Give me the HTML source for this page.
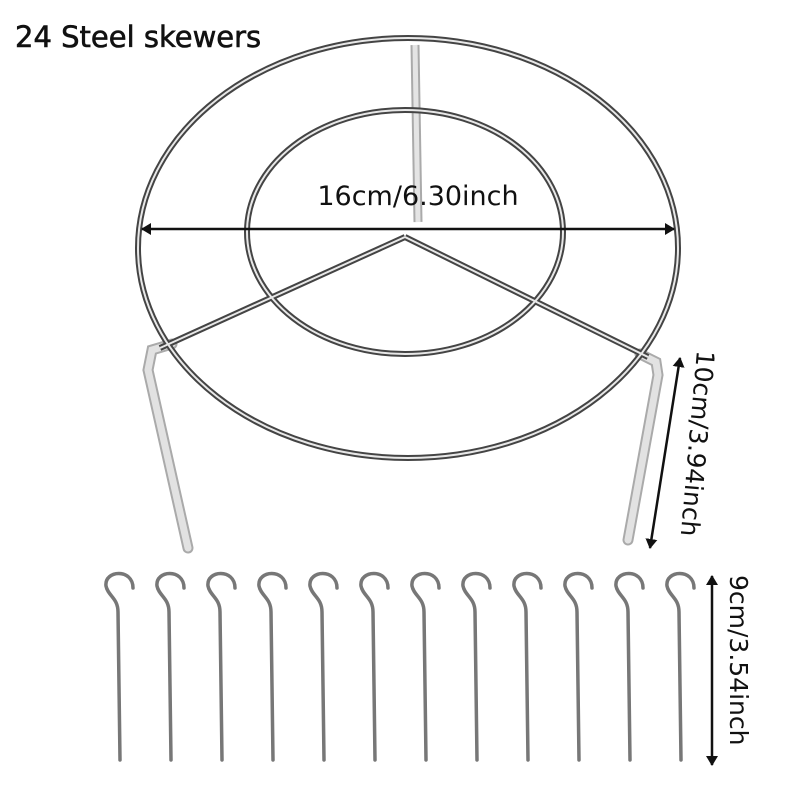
<!DOCTYPE html>
<html><head><style>body{margin:0;background:#fff}svg{display:block}</style></head><body>
<svg width="800" height="800" viewBox="0 0 800 800" xmlns="http://www.w3.org/2000/svg" font-family="DejaVu Sans, Liberation Sans, sans-serif">
<defs>
<marker id="a" markerWidth="10" markerHeight="12" refX="9" refY="6" orient="auto-start-reverse" markerUnits="userSpaceOnUse"><path d="M0,0 L10,6 L0,12 z" fill="#111"/></marker></defs>
<text x="15" y="47" font-size="29" fill="#111" stroke="#111" stroke-width="0.6">24 Steel skewers</text>
<line x1="415" y1="45" x2="418" y2="222" stroke="#aaa" stroke-width="9"/>
<line x1="415" y1="45" x2="418" y2="222" stroke="#e4e4e4" stroke-width="5"/>
<g fill="none" stroke-linecap="round">
<polyline points="172,344 152,350 148,370 188,548" stroke="#aaa" stroke-width="11"/>
<polyline points="172,344 152,350 148,370 188,548" stroke="#e2e2e2" stroke-width="7"/>
<polyline points="640,354 656,362 658,375 628,540" stroke="#aaa" stroke-width="11"/>
<polyline points="640,354 656,362 658,375 628,540" stroke="#e2e2e2" stroke-width="7"/>
</g>
<g fill="none" stroke="#444" stroke-width="6">
<ellipse cx="408" cy="248" rx="270" ry="210"/>
<ellipse cx="405" cy="232" rx="158" ry="122"/>
<line x1="405" y1="237" x2="160" y2="348"/>
<line x1="405" y1="237" x2="648" y2="357"/>
</g>
<g fill="none" stroke="#e8e8e8" stroke-width="2">
<ellipse cx="408" cy="248" rx="270" ry="210"/>
<ellipse cx="405" cy="232" rx="158" ry="122"/>
<line x1="405" y1="237" x2="160" y2="348"/>
<line x1="405" y1="237" x2="648" y2="357"/>
</g>
<line x1="142" y1="229" x2="674" y2="229" stroke="#111" stroke-width="2.5" marker-start="url(#a)" marker-end="url(#a)"/>
<text x="418" y="205" font-size="27" text-anchor="middle" fill="#111">16cm/6.30inch</text>
<line x1="680" y1="358" x2="650" y2="548" stroke="#111" stroke-width="2.5" marker-start="url(#a)" marker-end="url(#a)"/>
<text transform="translate(697,350) rotate(95)" font-size="25" fill="#111">10cm/3.94inch</text>
<g fill="none" stroke="#777" stroke-width="3.5" stroke-linecap="round">
<g id="s"><path d="M133,588 C133,568 104,570 106,586 C108,596 118,598 118,612 L120,760"/></g>
<use href="#s" x="51"/><use href="#s" x="102"/><use href="#s" x="153"/><use href="#s" x="204"/><use href="#s" x="255"/>
<use href="#s" x="306"/><use href="#s" x="357"/><use href="#s" x="408"/><use href="#s" x="459"/><use href="#s" x="510"/><use href="#s" x="561"/>
</g>
<line x1="712" y1="576" x2="712" y2="765" stroke="#111" stroke-width="2.5" marker-start="url(#a)" marker-end="url(#a)"/>
<text transform="translate(730,575) rotate(90)" font-size="25" fill="#111">9cm/3.54inch</text>
</svg>
</body></html>
